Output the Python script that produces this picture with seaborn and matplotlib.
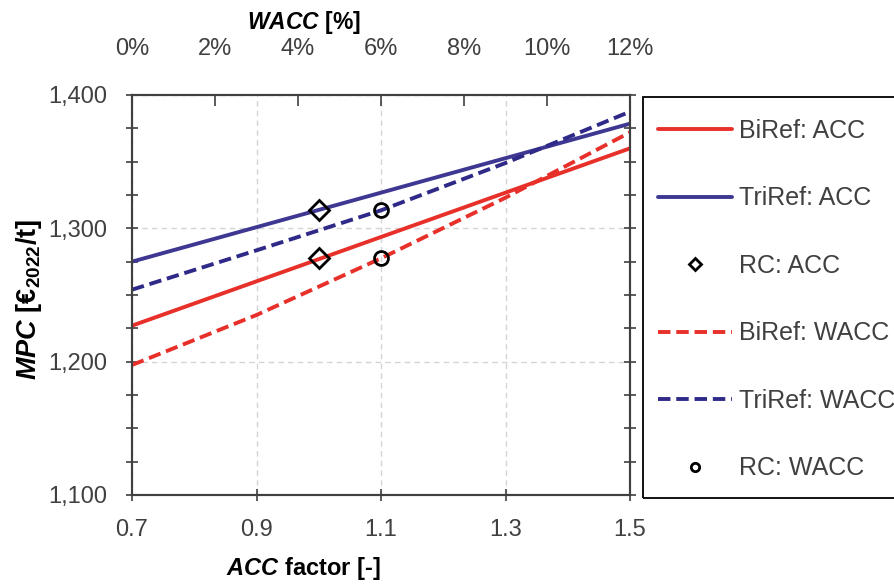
import matplotlib
matplotlib.use("Agg")
import matplotlib.pyplot as plt
from matplotlib.patches import Rectangle
from matplotlib.ticker import MultipleLocator, FuncFormatter
import seaborn as sns
import pandas as pd

# ---- data ----
acc_factor = [0.7, 1.5]
biref_acc = [1227, 1360]
triref_acc = [1275, 1378.5]

wacc_pct = [0, 3, 6, 9, 12]
biref_wacc = [1197.5, 1235, 1277.5, 1323, 1372]
triref_wacc = [1254, 1283.5, 1313.5, 1349, 1387.5]

rc_acc_x = [1.0, 1.0]
rc_wacc_x = [6, 6]
rc_values = [1277.5, 1313.5]

labels = ["BiRef: ACC", "TriRef: ACC", "RC: ACC",
          "BiRef: WACC", "TriRef: WACC", "RC: WACC"]

RED = "#E8302B"
BLUE = "#3E3893"
BLUE_D = "#2F2A88"
GREY = "#404040"

sns.set_theme(style="white")
plt.rcParams["font.family"] = ["Liberation Sans", "DejaVu Sans"]
plt.rcParams["mathtext.fontset"] = "custom"
plt.rcParams["mathtext.rm"] = "Liberation Sans:bold"
plt.rcParams["mathtext.bf"] = "Liberation Sans:bold"
plt.rcParams["mathtext.it"] = "Liberation Sans:bold:italic"

fig = plt.figure(figsize=(8.95, 5.85), dpi=100)
ax = fig.add_axes([132 / 895, 90 / 585, 498 / 895, 400 / 585])
ax2 = ax.twiny()

LW = 2.8
DASH = (0, (3.2, 1.5))

sns.lineplot(x=acc_factor, y=biref_acc, ax=ax, color=RED, linewidth=LW,
             label=labels[0], estimator=None)
sns.lineplot(x=acc_factor, y=triref_acc, ax=ax, color=BLUE, linewidth=LW,
             label=labels[1], estimator=None)
sns.lineplot(x=rc_acc_x, y=rc_values, ax=ax, estimator=None, sort=False,
             linestyle="", marker="D", markersize=10, markerfacecolor="none",
             markeredgecolor="black", markeredgewidth=2, color="black",
             label=labels[2], zorder=5)

sns.lineplot(x=wacc_pct, y=biref_wacc, ax=ax2, color=RED, linewidth=LW,
             linestyle=DASH, label=labels[3], estimator=None)
sns.lineplot(x=wacc_pct, y=triref_wacc, ax=ax2, color=BLUE_D, linewidth=LW,
             linestyle=DASH, label=labels[4], estimator=None)
sns.lineplot(x=rc_wacc_x, y=rc_values, ax=ax2, estimator=None, sort=False,
             linestyle="", marker="o", markersize=10, markerfacecolor="none",
             markeredgecolor="black", markeredgewidth=2, color="black",
             label=labels[5], zorder=5)

for a in (ax, ax2):
    if a.get_legend() is not None:
        a.get_legend().remove()

# ---- axes limits / ticks ----
ax.set_xlim(0.7, 1.5)
ax.set_ylim(1100, 1400)
ax2.set_xlim(0, 12)

ax.set_xticks([0.7, 0.9, 1.1, 1.3, 1.5])
ax.xaxis.set_major_formatter(FuncFormatter(lambda v, p: f"{v:.1f}"))
ax.yaxis.set_major_locator(MultipleLocator(100))
ax.yaxis.set_minor_locator(MultipleLocator(25))
ax.yaxis.set_major_formatter(FuncFormatter(lambda v, p: f"{int(round(v)):,}"))
ax2.set_xticks([0, 2, 4, 6, 8, 10, 12])
ax2.xaxis.set_major_formatter(FuncFormatter(lambda v, p: f"{int(v)}%"))

TICKFS = 17
ax.tick_params(axis="x", which="both", direction="inout", length=9, width=1.2,
               colors=GREY, labelsize=TICKFS, pad=13, bottom=True, top=False)
ax.tick_params(axis="y", which="both", direction="inout", length=9, width=1.2,
               colors=GREY, labelsize=TICKFS, pad=13, left=True, right=True)
ax2.tick_params(axis="x", which="both", direction="in", length=8, width=1.2,
                colors=GREY, labelsize=TICKFS, pad=25.5, top=True, bottom=False)

for a in (ax, ax2):
    for s in a.spines.values():
        s.set_color(GREY)
        s.set_linewidth(1.5)

ax.grid(True, which="major", linestyle=(0, (4, 3)), color="#D4D4D4",
        linewidth=1.0)
ax.set_axisbelow(True)
ax2.grid(False)

# ---- labels ----
ax.set_xlabel(r"$\mathit{ACC}$ factor [-]", fontsize=17, fontweight="bold",
              color="black")
ax.xaxis.set_label_coords(0.345, -0.15)
ax2.set_xlabel(r"$\mathit{WACC}$ [%]", fontsize=16.5, fontweight="bold",
               color="black")
ax2.xaxis.set_label_coords(0.345, 1.165)
ax.set_ylabel(r"$\mathit{MPC}$ [€$_{2022}$/t]", fontsize=19.5,
              fontweight="bold", color="black")
ax.yaxis.set_label_coords(-0.176, 0.49)

# ---- legend ----
h1, l1 = ax.get_legend_handles_labels()
h2, l2 = ax2.get_legend_handles_labels()
handles = h1 + h2
leg = fig.legend(handles, l1 + l2, loc="upper left",
                 bbox_to_anchor=(658 / 895, 1 - 119 / 585),
                 frameon=False, fontsize=18, handlelength=2.95,
                 handletextpad=0.3, labelspacing=1.74, borderpad=0,
                 borderaxespad=0, markerscale=0.6)
for t in leg.get_texts():
    t.set_color(GREY)

fig.patches.append(Rectangle((643 / 895, 1 - 498 / 585), 0.4, 401 / 585,
                             transform=fig.transFigure, fill=False,
                             edgecolor="black", linewidth=1.3))

fig.savefig("out.png", dpi=100)
